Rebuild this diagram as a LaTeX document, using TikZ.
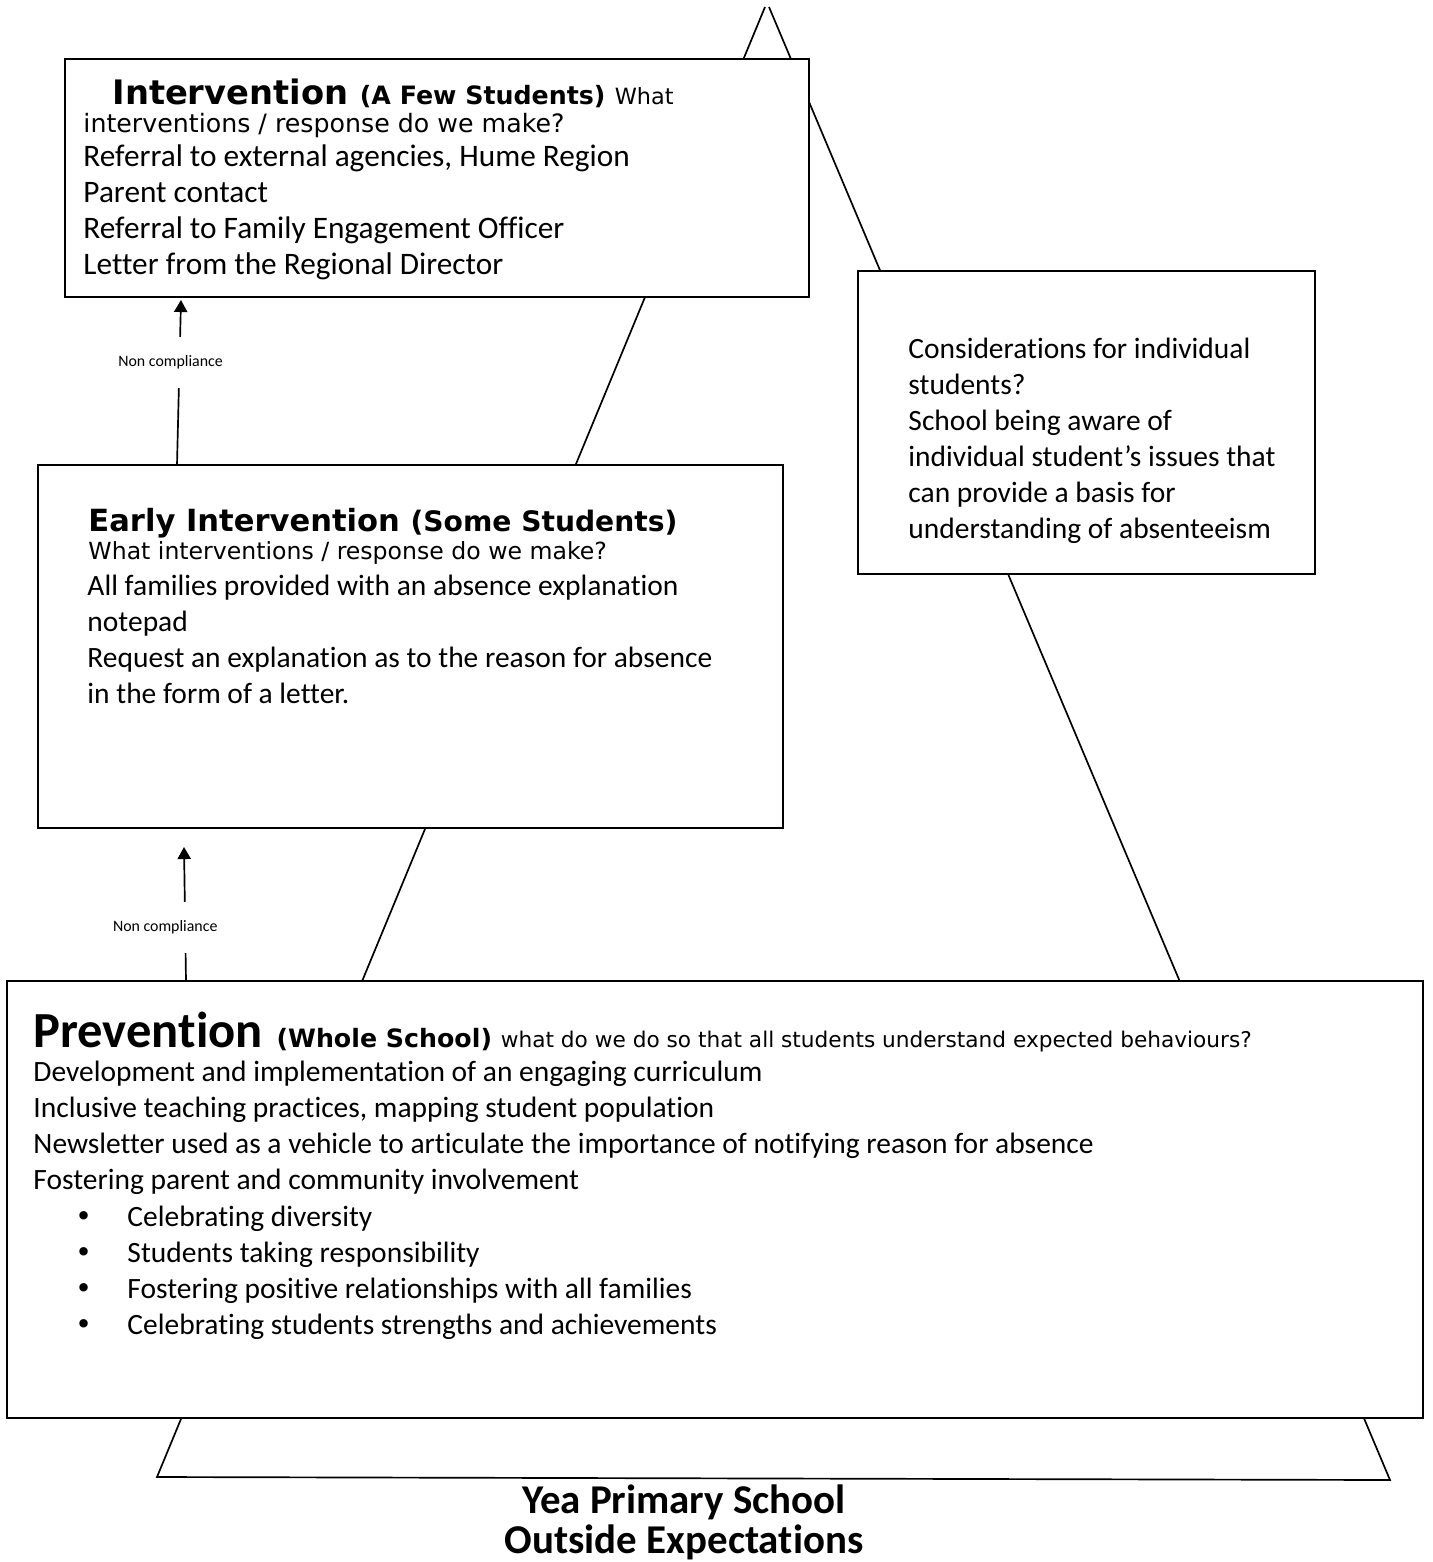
\documentclass[tikz,border=0pt]{standalone}
\usepackage{fontspec}
\setmainfont{Carlito}[Ligatures=NoCommon]
\newfontfamily\verdana{DejaVu Sans}
\usetikzlibrary{arrows.meta,fit}

\begin{document}
\begin{tikzpicture}[x=0.4155pt,y=-0.4155pt,>={Triangle[length=5pt,width=5.5pt]},
    box/.style={draw,line width=0.8pt,fill=white,inner sep=0pt},
    body/.style={anchor=base west,inner sep=0pt,font=\fontsize{12.25}{14}\selectfont},
    vbody/.style={anchor=base west,inner sep=0pt,font=\verdana\fontsize{9.8}{12}\selectfont},
    head/.style={anchor=base west,inner sep=0pt,font=\verdana\bfseries},
    nc/.style={font=\fontsize{6.6}{8}\selectfont,fill=white,inner xsep=1pt,minimum height=21pt},
    titletxt/.style={anchor=base,inner sep=0pt,font=\fontsize{17}{20}\selectfont\bfseries}]
  \useasboundingbox (0,0) rectangle (1432,1562);
  % pyramid, the boxes sit on top of it
  \draw[line width=0.7pt] (765,7) -- (157,1477) -- (1390,1480) -- (769,7);

  \node[box,fit={(65,59) (809,297)}] (interv) {};
  \node[box,fit={(38,465) (783,828)}] (early) {};
  \node[box,fit={(858,271) (1315,574)}] (consid) {};
  \node[box,fit={(7,981) (1423,1418)}] (prev) {};

  % non compliance arrows
  \coordinate (nc1a) at (177,465);
  \coordinate (nc1b) at (181,300);
  \coordinate (nc2a) at (186,981);
  \coordinate (nc2b) at (184,847);
  \draw[->,line width=0.7pt] (nc1a) -- node[nc,pos=0.62,xshift=-3.7pt] (nc1) {Non compliance} (nc1b);
  \draw[->,line width=0.7pt] (nc2a) -- node[nc,pos=0.40,xshift=-8.3pt] (nc2) {Non compliance} (nc2b);

  % intervention
  \node[head] (interv-h) at (112,105) {\fontsize{14}{16}\selectfont Intervention
    {\fontsize{10.5}{12}\selectfont (A Few Students)}\hspace{-1pt} {\mdseries\fontsize{9.3}{12}\selectfont What}};
  \node[vbody,font=\verdana\fontsize{10.5}{12}\selectfont] (interv-q) at (83,133) {interventions / response do we make?};
  \foreach \t [count=\i from 0] in {{Referral to external agencies, Hume Region},{Parent contact},
      {Referral to Family Engagement Officer},{Letter from the Regional Director}}
    \node[body,font=\fontsize{13}{15}\selectfont] (interv-\i) at (83,166+36*\i) {\t};

  % early intervention
  \node[head] (early-h) at (88,531) {\fontsize{12.7}{14}\selectfont Early Intervention
    {\fontsize{11.7}{13}\selectfont (Some Students)}};
  \node[vbody] (early-q) at (88,559) {What interventions / response do we make?};
  \foreach \t [count=\i from 0] in {{All families provided with an absence explanation},{notepad},
      {Request an explanation as to the reason for absence},{in the form of a letter.}}
    \node[body] (early-\i) at (87,595+36*\i) {\t};

  % considerations
  \foreach \t [count=\i from 0] in {{Considerations for individual},{students?},{School being aware of},
      {individual student’s issues that},{can provide a basis for},{understanding of absenteeism}}
    \node[body] (consid-\i) at (908,358+36*\i) {\t};

  % prevention
  \node[body] (prev-h) at (33,1047) {\fontsize{21}{24}\selectfont\bfseries Prevention\hspace{1pt}
    \verdana\fontsize{10.5}{12}\selectfont (Whole School)
    \mdseries\fontsize{9}{11}\selectfont what do we do so that all students understand expected behaviours?};
  \foreach \t [count=\i from 0] in {{Development and implementation of an engaging curriculum},
      {Inclusive teaching practices, mapping student population},
      {Newsletter used as a vehicle to articulate the importance of notifying reason for absence},
      {Fostering parent and community involvement}}
    \node[body] (prev-\i) at (33,1081+36*\i) {\t};
  \foreach \t [count=\i from 0] in {{Celebrating diversity},{Students taking responsibility},
      {Fostering positive relationships with all families},{Celebrating students strengths and achievements}}{
    \node[body,anchor=base] (blt-\i) at (84,1226+36*\i) {\verdana\fontsize{12}{12}\selectfont •};
    \node[body] (item-\i) at (127,1226+36*\i) {\t};
  }

  \node[titletxt] (title1) at (684,1513) {Yea Primary School};
  \node[titletxt] (title2) at (684,1553) {Outside Expectations};
\end{tikzpicture}
\end{document}
